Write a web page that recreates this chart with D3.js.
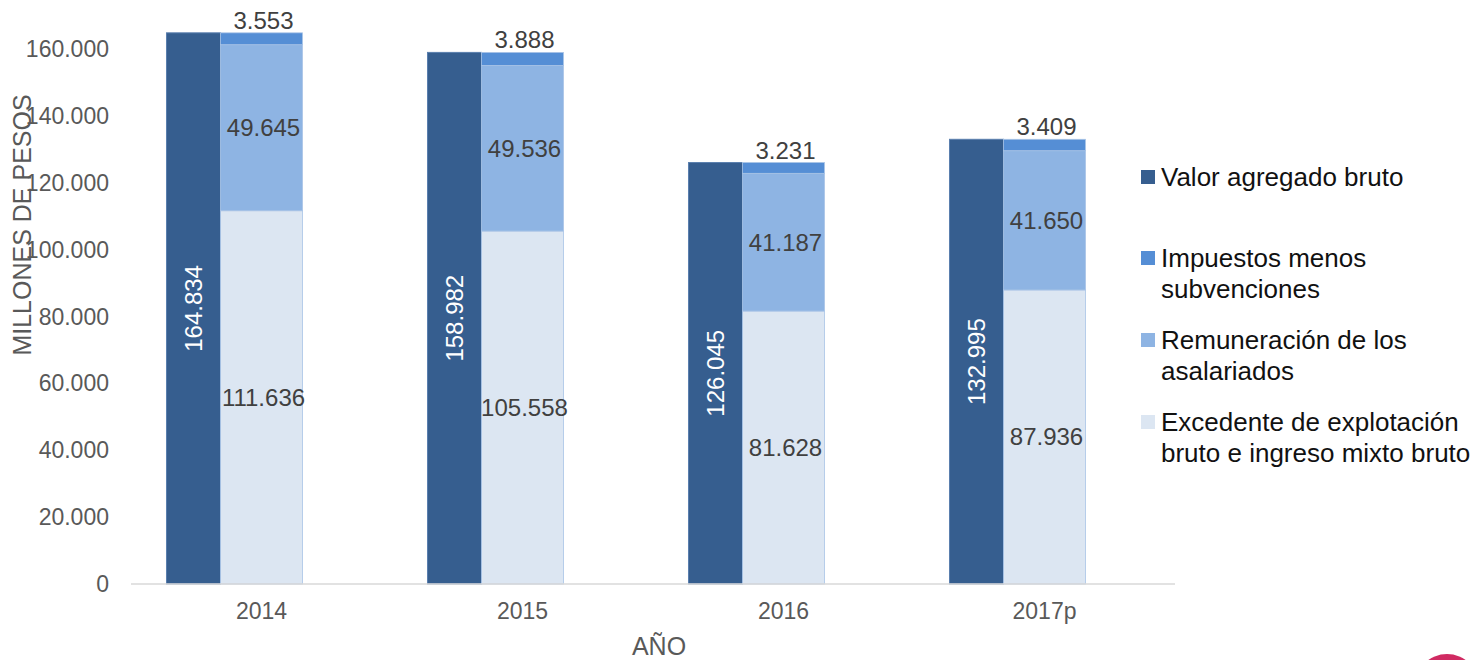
<!DOCTYPE html>
<html>
<head>
<meta charset="utf-8">
<script src="https://cdn.jsdelivr.net/npm/d3@7"></script>
<style>
  body { margin: 0; background: #fff; }
  svg { font-family: "Liberation Sans", Arial, sans-serif; }
</style>
</head>
<body>
<div id="chart"></div>
<script>
var years = ["2014", "2015", "2016", "2017p"];
var valorAgregado = [164834, 158982, 126045, 132995];
var excedente = [111636, 105558, 81628, 87936];
var remuneracion = [49645, 49536, 41187, 41650];
var impuestos = [3553, 3888, 3231, 3409];
var yTicks = [0, 20000, 40000, 60000, 80000, 100000, 120000, 140000, 160000];

var legendLines = [
    ["Valor agregado bruto"],
    ["Impuestos menos", "subvenciones"],
    ["Remuneración de los", "asalariados"],
    ["Excedente de explotación", "bruto e ingreso mixto bruto"]
];
var colors = ["#365e8f", "#558ed5", "#8eb4e3", "#dce6f2"];

var width = 1480, height = 660;

var svg = d3.select("#chart").append("svg")
    .attr("width", width)
    .attr("height", height);

var loc = d3.formatLocale({ decimal: ",", thousands: ".", grouping: [3], currency: ["$", ""] });
var fmt = loc.format(",d");

var x = d3.scaleBand()
    .domain(years)
    .range([131, 1175]);
var y = d3.scaleLinear()
    .domain([0, 160000])
    .range([584, 49]);

let bw = x.bandwidth();
let stackW = bw * 0.314,
    darkW = bw * 0.207;

// y axis tick labels
svg.append("g").selectAll("text")
    .data(yTicks)
    .enter().append("text")
    .attr("x", 109)
    .attr("y", d => y(d))
    .attr("dy", "0.35em")
    .attr("text-anchor", "end")
    .attr("font-size", 23)
    .attr("fill", "#595959")
    .text(d => fmt(d));

// bars
let g = svg.append("g");
for (let i in years) {
    let cx = x(years[i]) + bw / 2;
    g.append("rect")
        .attr("x", cx - stackW / 2 - darkW)
        .attr("y", y(valorAgregado[i]))
        .attr("width", darkW)
        .attr("height", y(0) - y(valorAgregado[i]))
        .attr("fill", colors[0])
        .attr("stroke", "#5a7fae")
        .attr("stroke-width", 1);

    // stacked
    let parts = [excedente[i], remuneracion[i], impuestos[i]];
    let partColors = [colors[3], colors[2], colors[1]];
    let base = 0;
    for (let k = 0; k < parts.length; k++) {
        g.append("rect")
            .attr("x", cx - stackW / 2)
            .attr("y", y(base + parts[k]))
            .attr("width", stackW)
            .attr("height", y(base) - y(base + parts[k]))
            .attr("fill", partColors[k])
            .attr("stroke", "#a9c4e6")
            .attr("stroke-width", 0.8);
        if (k < 2) {
            g.append("text")
                .attr("x", cx + 2)
                .attr("y", y(base + parts[k] / 2))
                .attr("dy", "0.35em")
                .attr("text-anchor", "middle")
                .attr("font-size", 24)
                .attr("fill", "#404040")
                .text(fmt(parts[k]));
        } else {
            g.append("text")
                .attr("x", cx + 2)
                .attr("y", y(base + parts[k]) - 4)
                .attr("text-anchor", "middle")
                .attr("font-size", 24)
                .attr("fill", "#404040")
                .text(fmt(parts[k]));
        }
        base += parts[k];
    }

    // rotated label in dark bar
    let lx = cx - stackW / 2 - darkW / 2,
        ly = y(valorAgregado[i] / 2);
    g.append("text")
        .attr("transform", "translate(" + lx + "," + ly + ") rotate(-90)")
        .attr("dy", "0.35em")
        .attr("text-anchor", "middle")
        .attr("font-size", 24)
        .attr("fill", "#ffffff")
        .text(fmt(valorAgregado[i]));

    // x tick label
    svg.append("text")
        .attr("x", cx)
        .attr("y", 619)
        .attr("text-anchor", "middle")
        .attr("font-size", 23)
        .attr("fill", "#595959")
        .text(years[i]);
}

// axis line
svg.append("line")
    .attr("x1", 131).attr("x2", 1175)
    .attr("y1", y(0)).attr("y2", y(0))
    .attr("stroke", "#d9d9d9")
    .attr("stroke-width", 1.5);

// axis titles
svg.append("text")
    .attr("transform", "translate(22," + 225 + ") rotate(-90)")
    .attr("dy", "0.35em")
    .attr("text-anchor", "middle")
    .attr("font-size", 25)
    .attr("fill", "#595959")
    .text("MILLONES DE PESOS");

svg.append("text")
    .attr("x", 659)
    .attr("y", 655)
    .attr("text-anchor", "middle")
    .attr("font-size", 25)
    .attr("fill", "#595959")
    .text("AÑO");

// legend
let legendY = [177, 258, 340, 422];
let lg = svg.append("g");
for (let i in legendLines) {
    lg.append("rect")
        .attr("x", 1141)
        .attr("y", legendY[i] - 7)
        .attr("width", 14)
        .attr("height", 14)
        .attr("fill", colors[i]);
    for (let j in legendLines[i]) {
        lg.append("text")
            .attr("x", 1161)
            .attr("y", legendY[i] + j * 31)
            .attr("dy", "0.35em")
            .attr("font-size", 26)
            .attr("fill", "#111")
            .text(legendLines[i][j]);
    }
}

// logo fragment at the bottom right corner
svg.append("circle")
    .attr("cx", 1447)
    .attr("cy", 686)
    .attr("r", 32)
    .attr("fill", "#d02a62");
</script>
</body>
</html>
